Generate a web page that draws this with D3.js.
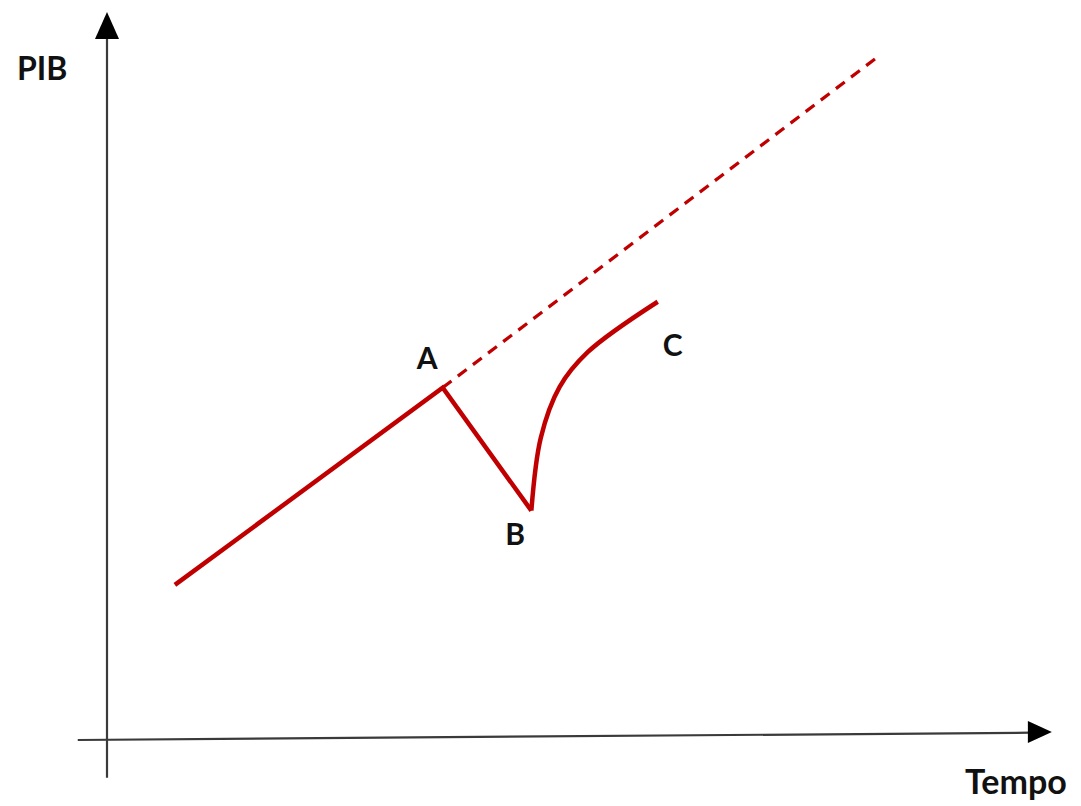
<!DOCTYPE html>
<html lang="pt">
<head>
    <meta charset="UTF-8">
    <title>PIB x Tempo</title>
    <script src="https://d3js.org/d3.v7.min.js"></script>
    <style>
        body { margin: 0; background: #fff; }
        text { font-family: Lato, "Open Sans", sans-serif; font-weight: bold; fill: #111; }
    </style>
</head>
<body>
<svg width="1081" height="806"></svg>
<script>
    // growth path before the shock (time, GDP)
    var trend = [[0.72, 2.13], [3.56, 4.84]];
    // fall from A to B
    var fall = [[3.56, 4.84], [4.50, 3.15]];
    // recovery from B to C
    var recovery = [[4.50, 3.15], [4.60, 4.15], [4.80, 4.85], [5.10, 5.33],
                    [5.84, 6.02]];
    // potential trend continued (dashed)
    var potential = [[3.56, 4.84], [8.20, 9.41]];
    var pointLabels = [
        { name: "A", t: 3.56, v: 4.84, dx: -26, dy: -19 },
        { name: "B", t: 4.50, v: 3.15, dx: -26, dy: 34 },
        { name: "C", t: 5.84, v: 6.02, dx: 5, dy: 54 }
    ];

    var svg = d3.select("svg");
    var x = d3.scaleLinear().domain([0, 10]).range([107, 1050]);
    var y = d3.scaleLinear().domain([0, 10]).range([740, 12]);
    var red = "#c00000";
    var axisColor = "#3a3a3a";

    // axes
    svg.append("line")
        .attr("x1", x(0)).attr("y1", y(-0.52))
        .attr("x2", x(0)).attr("y2", y(9.65))
        .attr("stroke", axisColor).attr("stroke-width", 2.2);
    svg.append("path")
        .attr("d", "M" + x(0) + "," + y(10) + "L" + (x(0) - 12) + "," + y(9.63) +
                   "L" + (x(0) + 12) + "," + y(9.63) + "Z")
        .attr("fill", "#000");

    svg.append("line")
        .attr("x1", x(-0.31)).attr("y1", y(0))
        .attr("x2", x(9.8)).attr("y2", y(0.1))
        .attr("stroke", axisColor).attr("stroke-width", 2.2);
    svg.append("path")
        .attr("d", "M" + x(10.02) + "," + y(0.11) + "L" + (x(10.02) - 24) + "," + (y(0.11) - 11) +
                   "L" + (x(10.02) - 24) + "," + (y(0.11) + 11) + "Z")
        .attr("fill", "#000");

    svg.append("text").attr("x", 17).attr("y", 80).attr("font-size", 32).text("PIB");
    svg.append("text").attr("x", 965).attr("y", 794).attr("font-size", 34).text("Tempo");

    var line = d3.line().x(function (d) { return x(d[0]); }).y(function (d) { return y(d[1]); });
    var curve = d3.line().curve(d3.curveCatmullRom.alpha(0.5))
        .x(function (d) { return x(d[0]); }).y(function (d) { return y(d[1]); });

    svg.append("path").attr("d", line(potential))
        .attr("fill", "none").attr("stroke", red).attr("stroke-width", 3.2)
        .attr("stroke-dasharray", "11,8");

    svg.append("path").attr("d", line(trend.concat(fall.slice(1))))
        .attr("fill", "none").attr("stroke", red).attr("stroke-width", 4.5)
        .attr("stroke-linejoin", "miter");
    svg.append("path").attr("d", curve(recovery))
        .attr("fill", "none").attr("stroke", red).attr("stroke-width", 4.5)
        .attr("stroke-linecap", "butt");

    svg.selectAll(".pt").data(pointLabels).enter().append("text")
        .attr("class", "pt")
        .attr("x", function (d) { return x(d.t) + d.dx; })
        .attr("y", function (d) { return y(d.v) + d.dy; })
        .attr("font-size", 30)
        .text(function (d) { return d.name; });
</script>
</body>
</html>
